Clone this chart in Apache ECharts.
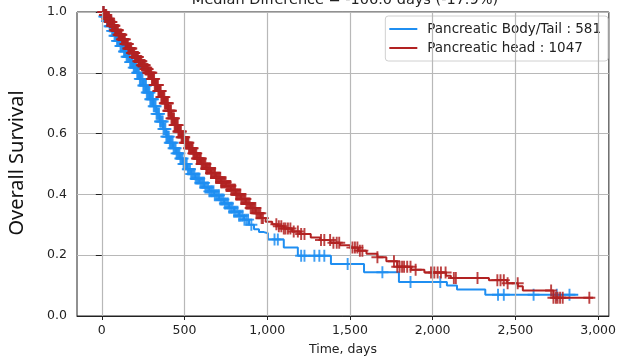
<!DOCTYPE html>
<html>
<head>
<meta charset="utf-8">
<script src="https://cdn.jsdelivr.net/npm/echarts@6/dist/echarts.min.js"></script>
<style>
html,body{margin:0;padding:0;background:#fff;}
#chart{width:619px;height:361px;}
</style>
</head>
<body>
<div id="chart"></div>
<script>
// ---------------- data ----------------
const titleText = 'Median Difference = -106.0 days (-17.9%)';
const seriesNames = ['Pancreatic Body/Tail : 581', 'Pancreatic head : 1047'];
const xTicks = [0, 500, 1000, 1500, 2000, 2500, 3000];
const yTicks = [0, 0.2, 0.4, 0.6, 0.8, 1.0];

// Pancreatic Body/Tail Kaplan-Meier curve (time in days, survival)
const bodyT = [0, 15, 30, 45, 60, 75, 90, 110, 130, 150, 170, 190, 210, 230, 250, 270, 290, 310, 330, 350,
  370, 390, 410, 430, 450, 470, 490, 515, 540, 565, 590, 620, 650, 680, 710, 740, 770, 800, 830, 860,
  890, 920, 950, 980, 1004, 1100, 1185, 1385, 1585, 1796, 2086, 2147, 2318, 2880];
const bodyS = [1.0, 0.985, 0.97, 0.953, 0.938, 0.922, 0.905, 0.888, 0.87, 0.853, 0.835, 0.817, 0.80, 0.78, 0.758, 0.735, 0.713, 0.69, 0.665, 0.64,
  0.615, 0.59, 0.57, 0.552, 0.535, 0.518, 0.50, 0.483, 0.467, 0.452, 0.438, 0.423, 0.41, 0.397, 0.383, 0.37, 0.356, 0.343, 0.33, 0.317,
  0.30, 0.285, 0.276, 0.272, 0.252, 0.225, 0.198, 0.171, 0.144, 0.112, 0.100, 0.087, 0.070, 0.070];
const bodyCensor = [10, 15, 21, 26, 31, 35, 41, 47, 51, 56, 62, 68, 72, 77, 83, 88, 92, 97, 103, 109, 113, 118,
  124, 129, 134, 140, 145, 150, 156, 161, 166, 171, 177, 182, 187, 193, 198, 203, 208, 214, 219,
  224, 230, 235, 240, 246, 251, 256, 262, 267, 272, 278, 283, 288, 293, 298, 304, 309, 314, 320, 325,
  331, 336, 341, 346, 352, 357, 362, 368, 373, 379, 384, 390, 395, 400, 405, 411, 417, 422, 428, 434,
  440, 446, 452, 458, 463, 469, 475, 481, 488, 494, 500, 506, 513, 520, 526, 533, 540, 547, 553, 560,
  567, 575, 582, 589, 596, 604, 611, 618, 626, 634, 642, 650, 658, 666, 675, 683, 692, 700, 708, 717,
  726, 735, 744, 753, 762, 771, 781, 790, 800, 810, 820, 830, 840, 851, 862, 873, 884, 904, 1044, 1064,
  1205, 1225, 1285, 1315, 1345, 1486, 1696, 1866, 2046, 2395, 2430, 2610, 2750, 2827];

// Pancreatic head Kaplan-Meier curve
const headT = [0, 15, 30, 45, 60, 80, 100, 120, 140, 160, 180, 200, 220, 240, 260, 280, 300, 320, 340, 360,
  380, 400, 420, 440, 460, 480, 500, 525, 550, 575, 600, 630, 660, 690, 720, 750, 780, 810, 840, 870,
  900, 930, 960, 990, 1030, 1064, 1100, 1150, 1200, 1263, 1320, 1383, 1440, 1503, 1550, 1600, 1666, 1720,
  1786, 1870, 1950, 2080, 2110, 2340, 2450, 2515, 2545, 2730, 2970];
const headS = [1.0, 0.99, 0.978, 0.967, 0.955, 0.94, 0.925, 0.91, 0.895, 0.88, 0.865, 0.852, 0.838, 0.825, 0.812, 0.80, 0.78, 0.76, 0.74, 0.72,
  0.70, 0.675, 0.65, 0.628, 0.607, 0.588, 0.57, 0.552, 0.535, 0.518, 0.50, 0.485, 0.47, 0.455, 0.44, 0.428, 0.415, 0.40, 0.385, 0.37,
  0.355, 0.338, 0.322, 0.31, 0.302, 0.295, 0.288, 0.278, 0.27, 0.258, 0.25, 0.241, 0.233, 0.225, 0.215, 0.205, 0.193, 0.18,
  0.162, 0.152, 0.143, 0.132, 0.125, 0.118, 0.108, 0.098, 0.084, 0.06, 0.06];
const headCensor = [8, 12, 19, 23, 27, 33, 37, 41, 44, 48, 52, 55, 58, 61, 66, 70, 73, 76, 80, 84, 87, 90, 94, 97,
  101, 105, 108, 112, 115, 118, 122, 126, 129, 133, 136, 139, 143, 147, 150, 154, 157, 160, 164, 168,
  171, 175, 178, 182, 186, 190, 193, 196, 200, 203, 207, 211, 214, 218, 221, 224, 228, 232, 235, 239,
  242, 246, 249, 253, 256, 259, 263, 267, 270, 274, 277, 281, 284, 288, 291, 295, 299, 303, 306, 310,
  313, 316, 320, 324, 328, 331, 335, 339, 342, 345, 349, 352, 356, 360, 363, 367, 371, 374, 378, 381,
  385, 389, 392, 396, 399, 402, 406, 410, 414, 418, 421, 425, 429, 433, 436, 440, 444, 447, 451, 455,
  459, 463, 466, 470, 474, 478, 482, 486, 490, 494, 498, 502, 506, 511, 515, 519, 523, 527, 531, 536,
  540, 545, 549, 553, 558, 562, 566, 571, 575, 580, 585, 590, 594, 598, 603, 607, 612, 617, 621, 626,
  631, 636, 640, 645, 650, 655, 660, 664, 669, 675, 680, 684, 690, 695, 700, 705, 710, 716, 721, 726,
  731, 737, 742, 748, 754, 760, 765, 771, 777, 783, 789, 795, 800, 806, 812, 818, 824, 831, 837, 843,
  849, 856, 862, 868, 874, 881, 887, 894, 900, 908, 914, 921, 928, 935, 942, 950, 958, 966, 974, 1055,
  1070, 1085, 1100, 1110, 1125, 1140, 1160, 1185, 1205, 1225, 1325, 1345, 1380, 1400, 1420, 1435, 1515,
  1530, 1545, 1560, 1575, 1666, 1766, 1786, 1800, 1815, 1827, 1846, 1866, 1897, 1990, 2010, 2030, 2050,
  2078, 2128, 2140, 2271, 2391, 2410, 2430, 2453, 2514, 2716, 2730, 2745, 2755, 2770, 2786, 2947];

// ---------------- helpers ----------------
function pairs(T, S) { return T.map((t, i) => [t, S[i]]); }
function survAt(T, S, t) {
  let v = S[0];
  for (let i = 0; i < T.length; i++) { if (T[i] <= t) v = S[i]; else break; }
  return v;
}
function censorPts(T, S, C) { return C.map(t => [t, survAt(T, S, t)]); }

const BLUE = '#1f8ef1';
const RED = '#b22222';
const PLUS = 'path://M4.2,0h1.6v4.2h4.2v1.6h-4.2v4.2h-1.6v-4.2h-4.2v-1.6h4.2z';

const chart = echarts.init(document.getElementById('chart'), null, {renderer: 'canvas'});
const axisFont = {fontFamily: 'DejaVu Sans', fontSize: 12.5, color: '#222'};

chart.setOption({
  animation: false,
  backgroundColor: '#fff',
  grid: {left: 77, right: 5, top: 12, bottom: 42, show: true, borderColor: '#222', borderWidth: 1, backgroundColor: 'transparent'},
  xAxis: {
    type: 'value', min: -150, max: 3065,
    name: 'Time, days', nameLocation: 'middle', nameGap: 27,
    nameTextStyle: axisFont,
    axisLine: {show: true, onZero: false, lineStyle: {color: '#222', width: 1}},
    axisTick: {show: true, length: 4, customValues: xTicks, lineStyle: {color: '#222'}},
    axisLabel: Object.assign({margin: 8, customValues: xTicks}, axisFont),
    splitLine: {show: false}
  },
  yAxis: {
    type: 'value', min: 0, max: 1, interval: 0.2,
    axisLine: {show: true, lineStyle: {color: '#222', width: 1}},
    axisTick: {show: true, length: 6, lineStyle: {color: '#222'}},
    axisLabel: Object.assign({margin: 10, formatter: v => v.toFixed(1)}, axisFont),
    splitLine: {show: true, lineStyle: {color: '#b8b8b8', width: 1.2}}
  },
  legend: {
    data: [{name: seriesNames[0], icon: 'rect'}, {name: seriesNames[1], icon: 'rect'}],
    orient: 'vertical', right: 11, top: 16,
    itemWidth: 28, itemHeight: 2, itemGap: 5,
    textStyle: {fontFamily: 'DejaVu Sans', fontSize: 13.5, color: '#222', padding: [0, 0, 0, 5]},
    backgroundColor: 'rgba(255,255,255,0.85)', borderColor: '#d0d0d0', borderWidth: 1, borderRadius: 3,
    padding: [6, 7, 6, 4]
  },
  graphic: [
    {type: 'text', z: 100, style: {text: titleText, x: 345, y: 0, textAlign: 'center', textVerticalAlign: 'middle',
      font: '14.5px "DejaVu Sans"', fill: '#222'}},
    {type: 'text', z: 100, rotation: Math.PI / 2, x: 17, y: 163,
      style: {text: 'Overall Survival', textAlign: 'center', textVerticalAlign: 'middle', font: '20px "Noto Sans"', fill: '#111'}}
  ],
  series: [
    {
      name: 'grid', type: 'line', data: [], z: 1, silent: true,
      markLine: {silent: true, symbol: 'none', label: {show: false},
        lineStyle: {color: '#b8b8b8', width: 1.2, type: 'solid'},
        data: xTicks.map(v => ({xAxis: v}))}
    },
    {
      name: seriesNames[0], type: 'line', step: 'end', data: pairs(bodyT, bodyS),
      showSymbol: false, symbol: 'none', z: 3,
      lineStyle: {color: BLUE, width: 2}, itemStyle: {color: BLUE}
    },
    {
      name: 'bodyCensor', type: 'scatter', data: censorPts(bodyT, bodyS, bodyCensor),
      symbol: PLUS, symbolSize: 12, z: 3, itemStyle: {color: BLUE, opacity: 0.85}
    },
    {
      name: seriesNames[1], type: 'line', step: 'end', data: pairs(headT, headS),
      showSymbol: false, symbol: 'none', z: 4,
      lineStyle: {color: RED, width: 2}, itemStyle: {color: RED}
    },
    {
      name: 'headCensor', type: 'scatter', data: censorPts(headT, headS, headCensor),
      symbol: PLUS, symbolSize: 12, z: 4, itemStyle: {color: RED, opacity: 0.85}
    }
  ]
});
</script>
</body>
</html>
